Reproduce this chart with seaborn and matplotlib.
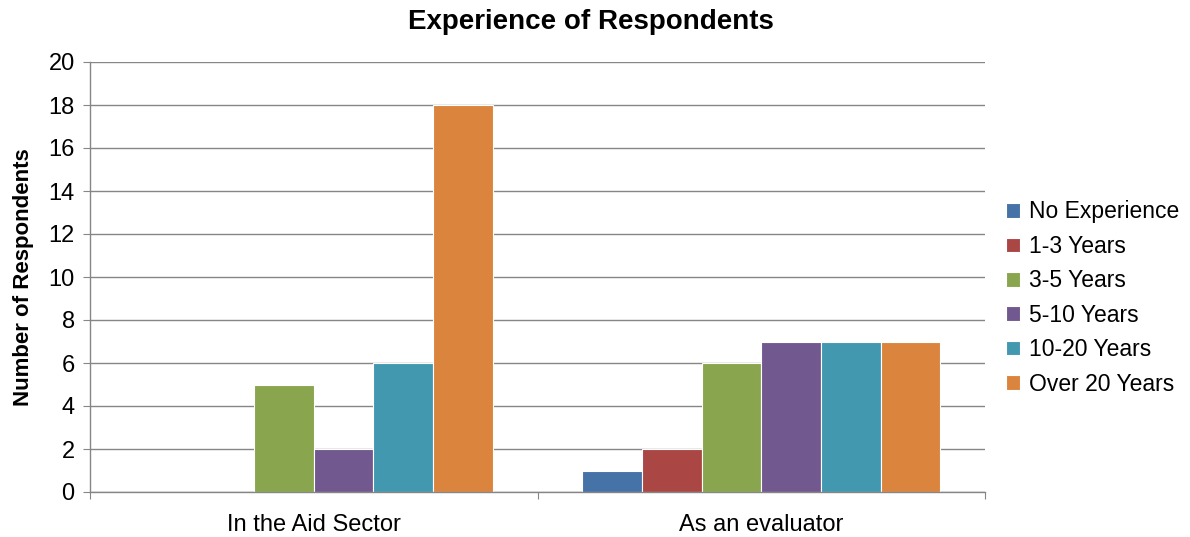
import matplotlib
matplotlib.use("Agg")
import matplotlib.pyplot as plt
import pandas as pd
import seaborn as sns

categories = ["In the Aid Sector", "As an evaluator"]
experience_levels = ["No Experience", "1-3 Years", "3-5 Years",
                     "5-10 Years", "10-20 Years", "Over 20 Years"]
aid_sector = [0, 0, 5, 2, 6, 18]
as_evaluator = [1, 2, 6, 7, 7, 7]
colors = ["#4572A7", "#AA4643", "#89A54E", "#71588F", "#4198AF", "#DB843D"]

df = pd.DataFrame({
    "Category": [categories[0]] * len(experience_levels) + [categories[1]] * len(experience_levels),
    "Experience": experience_levels * 2,
    "Respondents": aid_sector + as_evaluator,
})

sns.set_style("white")
plt.rcParams["font.family"] = ["Liberation Sans", "DejaVu Sans"]
plt.rcParams["text.color"] = "black"
plt.rcParams["xtick.color"] = "black"
plt.rcParams["ytick.color"] = "black"
plt.rcParams["axes.labelcolor"] = "black"

fig = plt.figure(figsize=(11.9, 5.37), dpi=100)
ax = fig.add_axes([90 / 1190, 1 - 492 / 537, 895 / 1190, 430 / 537])

sns.barplot(data=df, x="Category", y="Respondents", hue="Experience",
            hue_order=experience_levels, order=categories, palette=colors,
            width=0.8, edgecolor="white", linewidth=0.8, saturation=1,
            ax=ax, legend=True)

ax.set_xlim(-0.5, 1.5)
ax.set_ylim(0, 20)
ax.set_yticks(range(0, 21, 2))
ax.tick_params(axis="y", labelsize=17, length=5, color="#868686", direction="out", left=True, pad=6)
ax.yaxis.grid(True, color="#868686", linewidth=1)
ax.set_axisbelow(True)

# Excel-style: tick marks on category boundaries, labels at centers
ax.set_xticks([-0.5, 0.5, 1.5])
ax.set_xticklabels([])
ax.set_xticks([0, 1], minor=True)
ax.set_xticklabels(categories, minor=True, fontsize=17)
ax.tick_params(axis="x", which="major", length=5, color="#868686", direction="out", bottom=True)
ax.tick_params(axis="x", which="minor", length=0, pad=16)

for side in ["top", "right"]:
    ax.spines[side].set_visible(False)
for side in ["left", "bottom"]:
    ax.spines[side].set_color("#868686")
    ax.spines[side].set_linewidth(1)

ax.set_xlabel("")
ax.set_ylabel("Number of Respondents", fontsize=16, fontweight="bold", labelpad=10)
fig.suptitle("Experience of Respondents", fontsize=20, fontweight="bold",
             x=0.497, y=1 - 22 / 537, va="center")

ax.legend(loc="center left", bbox_to_anchor=(1.013, 0.451), frameon=False,
          fontsize=16.5, handlelength=0.6, handleheight=0.6, handletextpad=0.4,
          labelspacing=0.5, borderaxespad=0)

fig.savefig("out.png", dpi=100)
